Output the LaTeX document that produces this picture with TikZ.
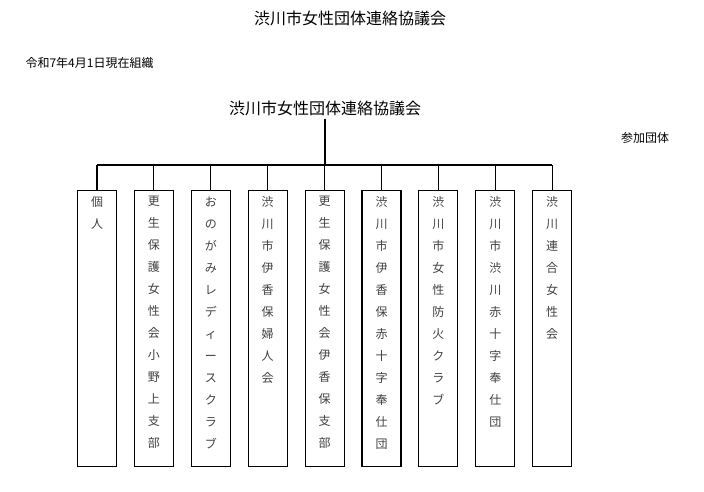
\documentclass[tikz,border=0pt]{standalone}
\usepackage{fontspec}
\setmainfont{Noto Sans CJK JP}
\usetikzlibrary{positioning,calc}
\begin{document}
\begin{tikzpicture}[x=1pt,y=-1pt]
\tikzset{
    %line style
    ln/.style={black, line width=1.1pt},
    %member box
    kumi/.style={
           rectangle, draw=black, line width=1.1pt,
           minimum width=39pt, minimum height=276pt,
           anchor=north, inner sep=0pt},
    moji/.style={
           anchor=north, align=center, text=black!75,
           font=\fontsize{12}{22}\selectfont}
}
\useasboundingbox (0,0) rectangle (704,492);

%titles
\node(title)  at (350,18)  {\fontsize{16}{18}\selectfont 渋川市女性団体連絡協議会};
\node(date)   [anchor=west] at (22,63) {\fontsize{12}{14}\selectfont 令和7年4月1日現在組織};
\node(top)    at (325,108) {\fontsize{16}{18}\selectfont 渋川市女性団体連絡協議会};
\node(sanka)  at (645,138) {\fontsize{12}{14}\selectfont 参加団体};

%boxes
\foreach \i/\t in {1/{個\\人},
    2/{更\\生\\保\\護\\女\\性\\会\\小\\野\\上\\支\\部},
    3/{お\\の\\が\\み\\レ\\デ\\ィ\\ー\\ス\\ク\\ラ\\ブ},
    4/{渋\\川\\市\\伊\\香\\保\\婦\\人\\会},
    5/{更\\生\\保\\護\\女\\性\\会\\伊\\香\\保\\支\\部},
    6/{渋\\川\\市\\伊\\香\\保\\赤\\十\\字\\奉\\仕\\団},
    7/{渋\\川\\市\\女\\性\\防\\火\\ク\\ラ\\ブ},
    8/{渋\\川\\市\\渋\\川\\赤\\十\\字\\奉\\仕\\団},
    9/{渋\\川\\連\\合\\女\\性\\会}}{
  \node(b\i) [kumi] at ({97+56.9*(\i-1)},190) {};
  \node(t\i) [moji] at ($(b\i.north)+(0,3)$) {\t};
}

%connectors
\coordinate(bus) at (325,165);
\draw[ln] (top.south) -- (bus);
\draw[ln] (b1.north |- bus) -- (b9.north |- bus);
\foreach \i in {1,...,9}
  \draw[ln] (b\i.north |- bus) -- (b\i.north);
\end{tikzpicture}
\end{document}
